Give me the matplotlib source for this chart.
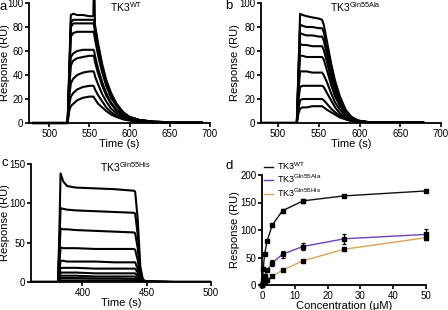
import matplotlib
matplotlib.use("Agg")
import matplotlib.pyplot as plt
from matplotlib.lines import Line2D

plt.rcParams['font.family'] = ['Liberation Sans', 'DejaVu Sans']
plt.rcParams['mathtext.fontset'] = 'custom'
plt.rcParams['mathtext.rm'] = 'Liberation Sans'
plt.rcParams['mathtext.it'] = 'Liberation Sans'

# ---------------- data ----------------
# Panel a: TK3 WT sensorgrams
time_a = [480, 523, 525, 527, 530, 535, 542, 550, 555, 556, 557, 561, 566, 571, 577, 584, 592, 600, 612, 630, 660, 690]
resp_a = [
    [0, 0, 45, 90, 91, 90, 90, 89, 89, 130, 82, 66, 49, 36, 25, 16, 9, 5, 2.5, 1, 0.5, 0.5],
    [0, 0, 40, 84, 86, 86, 86, 86, 86, 84, 79, 63, 47, 34, 24, 15, 9, 5, 2.5, 1, 0.5, 0.5],
    [0, 0, 38, 80, 83, 83, 83, 83, 83, 81, 76, 61, 45, 33, 23, 15, 8, 5, 2.5, 1, 0.5, 0.5],
    [0, 0, 35, 72, 75, 76, 76, 76, 76, 74, 70, 56, 42, 31, 21, 14, 8, 4.5, 2.5, 1, 0.5, 0.5],
    [0, 0, 30, 55, 58, 60, 61, 61, 61, 60, 56, 45, 34, 25, 17, 11, 7, 4, 2, 1, 0.5, 0.5],
    [0, 0, 28, 48, 52, 54, 55, 56, 56, 55, 51, 41, 31, 23, 16, 10, 6, 3.5, 2, 1, 0.5, 0.5],
    [0, 0, 22, 33, 37, 40, 42, 43, 43, 42, 39, 32, 24, 18, 12, 8, 5, 3, 1.5, 0.8, 0.5, 0.5],
    [0, 0, 15, 22, 25, 28, 30, 31, 31, 30, 28, 23, 18, 13, 9, 6, 4, 2.5, 1.5, 0.8, 0.5, 0.5],
    [0, 0, 10, 14, 16, 19, 21, 22, 22, 21, 20, 16, 13, 10, 7, 5, 3, 2, 1, 0.6, 0.4, 0.4],
]

# Panel b: TK3 Gln55Ala sensorgrams
time_b = [480, 523, 525, 527, 530, 535, 542, 550, 554, 556, 560, 565, 570, 576, 583, 590, 598, 610, 640, 678]
resp_b = [
    [0, 0, 45, 91, 90, 89, 88, 87, 86, 82, 68, 50, 35, 22, 11, 5, 2, 0.8, 0.3, 0.3],
    [0, 0, 42, 82, 81, 80, 80, 79, 79, 76, 63, 46, 32, 20, 10, 5, 2, 0.8, 0.3, 0.3],
    [0, 0, 40, 75, 74, 73, 73, 72, 72, 69, 57, 42, 29, 18, 9, 4.5, 2, 0.8, 0.3, 0.3],
    [0, 0, 36, 66, 65, 65, 64, 64, 64, 61, 51, 37, 26, 16, 8, 4, 1.8, 0.8, 0.3, 0.3],
    [0, 0, 32, 56, 56, 55, 55, 55, 55, 53, 44, 32, 22, 14, 7, 3.5, 1.6, 0.7, 0.3, 0.3],
    [0, 0, 26, 43, 43, 43, 42, 42, 42, 40, 34, 25, 17, 11, 6, 3, 1.4, 0.6, 0.3, 0.3],
    [0, 0, 19, 30, 31, 31, 31, 31, 31, 30, 25, 19, 13, 8, 4.5, 2.5, 1.2, 0.5, 0.3, 0.3],
    [0, 0, 12, 19, 20, 20, 20, 20, 20, 19, 16, 12, 9, 6, 3.5, 2, 1, 0.5, 0.3, 0.3],
    [0, 0, 8, 12, 13, 13, 14, 14, 14, 13, 11, 9, 7, 4.5, 3, 1.5, 0.8, 0.4, 0.3, 0.3],
]

# Panel c: TK3 Gln55His sensorgrams
time_c = [360, 381, 382, 383, 385, 388, 395, 410, 425, 440, 441, 443, 445, 447, 450, 470, 500]
resp_c = [
    [0, 0, 60, 138, 128, 122, 120, 119, 118, 116, 115, 80, 20, 3, 0.5, 0, 0],
    [0, 0, 45, 94, 93, 92, 91, 90, 89, 88, 87, 60, 15, 2, 0.5, 0, 0],
    [0, 0, 35, 68, 67, 67, 66, 65, 64, 63, 62, 43, 11, 2, 0.5, 0, 0],
    [0, 0, 22, 44, 43, 43, 43, 42, 42, 42, 41, 28, 7, 1.5, 0.5, 0, 0],
    [0, 0, 14, 27, 27, 26, 26, 26, 25, 25, 25, 17, 5, 1, 0.3, 0, 0],
    [0, 0, 9, 18, 18, 18, 18, 17, 17, 17, 17, 12, 3, 1, 0.3, 0, 0],
    [0, 0, 6, 12, 12, 12, 12, 11, 11, 11, 11, 8, 2, 0.5, 0.2, 0, 0],
    [0, 0, 4, 8, 8, 8, 8, 7, 7, 7, 7, 5, 1.5, 0.5, 0.2, 0, 0],
    [0, 0, 2.5, 5, 5, 5, 5, 4.5, 4.5, 4, 4, 3, 1, 0.3, 0.1, 0, 0],
    [0, 0, 1, 2, 2, 2, 2, 2, 2, 2, 2, 1.5, 0.5, 0.2, 0.1, 0, 0],
]

# Panel d: steady-state binding
conc = [0, 0.39, 0.78, 1.56, 3.125, 6.25, 12.5, 25, 50]
wt_resp = [0, 30, 56, 80, 109, 135, 153, 162, 171]
wt_err = [0, 2, 2, 2, 2, 4, 3, 2, 2]
ala_resp = [0, 9, 17, 27, 40, 56, 70, 84, 92]
ala_err = [0, 1, 2, 3, 5, 6, 7, 9, 9]
his_resp = [0, 3, 5, 10, 16, 27, 44, 65, 86]
his_err = [0, 1, 1, 1, 1, 1, 2, 2, 4]
series_labels = [r'TK3$^{\mathrm{WT}}$', r'TK3$^{\mathrm{Gln55Ala}}$', r'TK3$^{\mathrm{Gln55His}}$']
series_colors = ['#111111', '#7040b8', '#d9a45a']

# ---------------- layout ----------------
W, H = 448, 310
fig = plt.figure(figsize=(W / 100, H / 100), dpi=100)

TICK_FS = 7
LAB_FS = 8


def px_axes(l, t, r, b):
    return fig.add_axes([l / W, (H - b) / H, (r - l) / W, (b - t) / H])


def style(ax):
    for s in ['top', 'right']:
        ax.spines[s].set_visible(False)
    for s in ['left', 'bottom']:
        ax.spines[s].set_linewidth(1.3)
    ax.tick_params(direction='out', length=3, width=1.2, labelsize=TICK_FS, pad=1)


def labels(ax, xl, left_px, ylab_px):
    ax.set_xlabel(xl, fontsize=LAB_FS, labelpad=0)
    ax.set_ylabel('Response (RU)', fontsize=LAB_FS, va='center')
    width_px = ax.get_position().width * W
    ax.yaxis.set_label_coords((ylab_px - left_px) / width_px, 0.5)


# Panel a
axa = px_axes(29, 3, 210, 123)
for r in resp_a:
    axa.plot(time_a, r, color='black', lw=1.5, clip_on=False)
axa.set_xlim(475, 700)
axa.set_ylim(0, 100)
axa.set_xticks([500, 550, 600, 650, 700])
axa.set_yticks([0, 20, 40, 60, 80, 100])
labels(axa, 'Time (s)', 29, 5.5)
style(axa)

# Panel b
axb = px_axes(261, 3, 441, 123)
for r in resp_b:
    axb.plot(time_b, r, color='black', lw=1.5)
axb.set_xlim(479, 700)
axb.set_ylim(0, 100)
axb.set_xticks([500, 550, 600, 650, 700])
axb.set_yticks([0, 20, 40, 60, 80, 100])
labels(axb, 'Time (s)', 261, 235)
style(axb)

# Panel c
axc = px_axes(31, 164, 211, 282)
for r in resp_c:
    axc.plot(time_c, r, color='black', lw=1.5)
axc.set_xlim(360, 500)
axc.set_ylim(0, 150)
axc.set_xticks([400, 450, 500])
axc.set_yticks([0, 50, 100, 150])
labels(axc, 'Time (s)', 31, 5.5)
style(axc)

# Panel d
axd = px_axes(262, 175, 426, 285)
for y, e, c, lab in zip([wt_resp, ala_resp, his_resp], [wt_err, ala_err, his_err],
                        series_colors, series_labels):
    axd.errorbar(conc, y, yerr=e, color=c, lw=1.0, ecolor='black', elinewidth=0.9,
                 capsize=1.5, capthick=0.9, marker='s', ms=2.3, mfc='black', mec='black',
                 label=lab, clip_on=False)
axd.set_xlim(0, 50)
axd.set_ylim(0, 200)
axd.set_xticks([0, 10, 20, 30, 40, 50])
axd.set_yticks([0, 50, 100, 150, 200])
labels(axd, 'Concentration (\u03bcM)', 262, 234.5)
style(axd)
handles = [Line2D([], [], color=c, lw=1.0) for c in series_colors]
axd.legend(handles, series_labels, loc='upper left', bbox_to_anchor=(264 / W, (H - 160) / H),
           bbox_transform=fig.transFigure, frameon=False, fontsize=6.5, handlelength=1.0,
           handletextpad=0.4, labelspacing=0.12, borderaxespad=0, borderpad=0)

# Titles
fig.text(126 / W, 1 - 7 / H, r'TK3$^{\mathrm{WT}}$', ha='center', va='center', fontsize=7.5)
fig.text(355 / W, 1 - 7 / H, r'TK3$^{\mathrm{Gln55Ala}}$', ha='center', va='center', fontsize=7.5)
fig.text(125 / W, 1 - 167 / H, r'TK3$^{\mathrm{Gln55His}}$', ha='center', va='center', fontsize=7.5)

# Panel letters
fig.text(0 / W, 1 - 0.5 / H, 'a', ha='left', va='top', fontsize=9.5)
fig.text(225 / W, 1 - 6 / H, 'b', ha='left', va='center', fontsize=9.5)
fig.text(1 / W, 1 - 163 / H, 'c', ha='left', va='center', fontsize=9.5)
fig.text(225 / W, 1 - 166 / H, 'd', ha='left', va='center', fontsize=9.5)

fig.savefig('out.png', dpi=100)
